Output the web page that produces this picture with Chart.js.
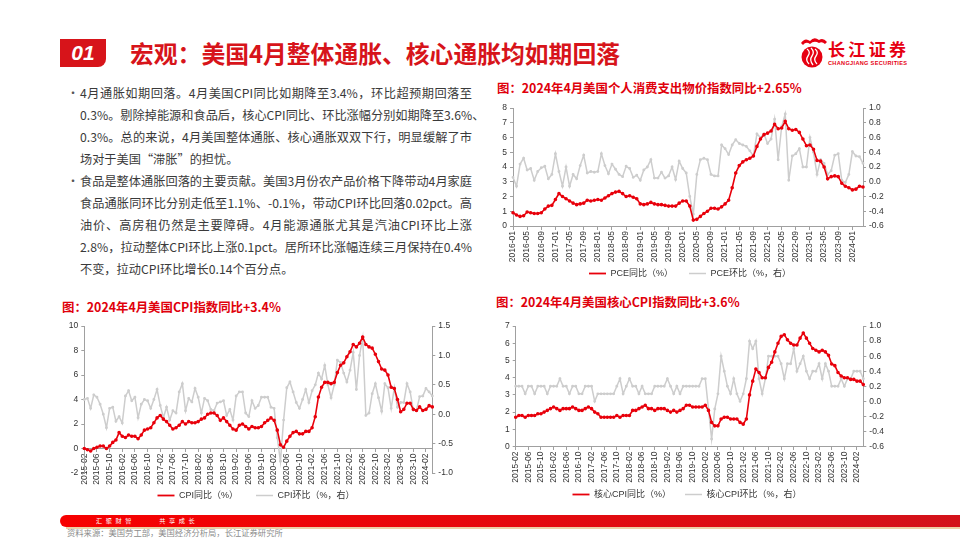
<!DOCTYPE html>
<html>
<head>
<meta charset="utf-8">
<script src="https://cdn.jsdelivr.net/npm/chart.js@4.4.1/dist/chart.umd.min.js"></script>
<style>
  body { margin: 0; width: 960px; height: 540px; overflow: hidden; background: #fff; position: relative;
         font-family: "Noto Sans CJK SC", sans-serif; }
  .abs { position: absolute; }
  .num { left: 60px; top: 39px; width: 46px; height: 28px; background: #D7141A; border-radius: 0 0 8px 0;
         color: #fff; font: italic bold 21px "Liberation Sans", Arial, sans-serif; line-height: 28px; text-align: center; }
  .title { left: 130px; top: 35px; font-size: 23.8px; font-weight: bold; color: #D7141A; white-space: nowrap; }
  .txt { left: 80px; width: 392px; font-size: 12.2px; color: #3a3a3a; line-height: 22px; height: 22px;
         text-align: justify; text-align-last: justify; white-space: nowrap; }
  .txt.last { text-align-last: left; }
  .dot { left: 67px; font-size: 12px; color: #555; line-height: 22px; }
  .ctitle { font-size: 12.4px; font-weight: bold; color: #E0000B; white-space: nowrap; }
  canvas { position: absolute; }
</style>
</head>
<body>

<div class="abs num">01</div>
<div class="abs title">宏观：美国4月整体通胀、核心通胀均如期回落</div>

<svg class="abs" style="left:798px;top:34px" width="116" height="36" viewBox="0 0 116 36">
  <path d="M3 9 Q7 3 12 7 Q16 2 21 6 Q25 3 29 8 L27 10 Q24 7 21 9 Q16 6 12 10 Q8 7 5 11 Z" fill="#E60012"/>
  <circle cx="14" cy="23" r="10.5" fill="#E60012"/>
  <path d="M9 15 Q13 18 10 22 Q7 26 11 30" stroke="#fff" stroke-width="1.3" fill="none"/>
  <path d="M13 14 Q17 18 14 22 Q11 26 15 31" stroke="#fff" stroke-width="1.3" fill="none"/>
  <path d="M17 15 Q21 18 18 22 Q15 26 19 30" stroke="#fff" stroke-width="1.3" fill="none"/>
  <text x="30" y="22" font-size="17" font-weight="bold" fill="#E60012" textLength="78"
        font-family="Noto Sans CJK SC">长江证券</text>
  <text x="30" y="30.5" font-size="5.6" font-weight="bold" fill="#E60012" textLength="79"
        font-family="Liberation Sans, Arial">CHANGJIANG SECURITIES</text>
</svg>

<div class="abs dot" style="top:82px">•</div>
<div class="abs txt" style="top:82px">4月通胀如期回落。4月美国CPI同比如期降至3.4%，环比超预期回落至</div>
<div class="abs txt" style="top:104px">0.3%。剔除掉能源和食品后，核心CPI同比、环比涨幅分别如期降至3.6%、</div>
<div class="abs txt" style="top:126px">0.3%。总的来说，4月美国整体通胀、核心通胀双双下行，明显缓解了市</div>
<div class="abs txt last" style="top:148px">场对于美国“滞胀”的担忧。</div>
<div class="abs dot" style="top:170px">•</div>
<div class="abs txt" style="top:170px">食品是整体通胀回落的主要贡献。美国3月份农产品价格下降带动4月家庭</div>
<div class="abs txt" style="top:192px">食品通胀同环比分别走低至1.1%、-0.1%，带动CPI环比回落0.02pct。高</div>
<div class="abs txt" style="top:214px">油价、高房租仍然是主要障碍。4月能源通胀尤其是汽油CPI环比上涨</div>
<div class="abs txt" style="top:236px">2.8%，拉动整体CPI环比上涨0.1pct。居所环比涨幅连续三月保持在0.4%</div>
<div class="abs txt last" style="top:258px">不变，拉动CPI环比增长0.14个百分点。</div>

<div class="abs ctitle" style="left:497px;top:79px">图：2024年4月美国个人消费支出物价指数同比+2.65%</div>
<div class="abs ctitle" style="left:62px;top:298px">图：2024年4月美国CPI指数同比+3.4%</div>
<div class="abs ctitle" style="left:496px;top:293px">图：2024年4月美国核心CPI指数同比+3.6%</div>

<canvas id="pce" width="420" height="188" style="left:480px;top:100px"></canvas>
<canvas id="cpi" width="404" height="192" style="left:54px;top:318px"></canvas>
<canvas id="core" width="410" height="191" style="left:482px;top:318px"></canvas>

<div class="abs" style="left:60px;top:515px;width:900px;height:12px;border-radius:6px 0 0 6px;
     background:linear-gradient(90deg,#F70000,#D3121A)"></div>
<div class="abs" style="left:66px;top:527px;width:894px;height:2px;background:#EDCFA5"></div>
<div class="abs" style="left:96px;top:515px;font-size:6.2px;line-height:12px;color:#fff;letter-spacing:3.6px;white-space:nowrap">汇聚财智<span style="margin-left:24px">共享成长</span></div>
<div class="abs" style="left:67px;top:527px;font-size:8.3px;line-height:11px;color:#8c8c8c;white-space:nowrap">资料来源：美国劳工部，美国经济分析局，长江证券研究所</div>

<script>
// month categories
function monthLabels(year, month, n) {
  const out = [];
  for (let k = 0; k < n; k++) {
    const m = (month - 1 + k) % 12 + 1;
    const y = year + Math.floor((month - 1 + k) / 12);
    out.push(y + '-' + String(m).padStart(2, '0'));
  }
  return out;
}

const pceMonths = monthLabels(2016, 1, 100);   // 2016-01 .. 2024-04
const cpiMonths = monthLabels(2015, 2, 111);   // 2015-02 .. 2024-04

// PCE 同比 (%), left axis
const pceYoy = [
  0.9, 0.75, 0.65, 0.7, 0.95, 0.9, 0.85, 0.85, 0.9, 1.15, 1.35, 1.4,
  1.8, 2.2, 2.0, 1.85, 1.7, 1.55, 1.45, 1.5, 1.55, 1.75, 1.7, 1.75,
  1.8, 1.75, 1.9, 2.05, 2.2, 2.3, 2.35, 2.2, 2.0, 2.05, 1.95, 1.85,
  1.5, 1.45, 1.5, 1.6, 1.5, 1.45, 1.45, 1.4, 1.35, 1.35, 1.35, 1.55,
  1.7, 1.7, 1.35, 0.4, 0.45, 0.65, 0.85, 1.0, 1.2, 1.2, 1.15, 1.3,
  1.5, 1.75, 2.6, 3.6, 4.1, 4.35, 4.5, 4.6, 4.75, 5.4, 5.9, 6.2,
  6.3, 6.45, 6.9, 6.6, 6.65, 7.1, 6.6, 6.5, 6.55, 6.35, 5.9, 5.45,
  5.5, 5.2, 4.45, 4.4, 4.0, 3.2, 3.35, 3.4, 3.35, 2.9, 2.7, 2.6,
  2.45, 2.5, 2.7, 2.65
];
// PCE 环比 (%), right axis
const pceMom = [
  0.06, -0.06, 0.24, 0.32, 0.16, 0.18, 0.02, 0.14, 0.19, 0.21, 0.04, 0.10,
  0.38, 0.14, -0.06, 0.20, -0.06, 0.10, 0.04, 0.22, 0.36, 0.12, 0.14, 0.13,
  0.14, 0.38, 0.22, 0.11, 0.24, 0.17, 0.10, 0.07, 0.21, 0.18, 0.06, 0.09,
  0.02, 0.16, 0.20, 0.30, 0.05, 0.05, 0.13, 0.05, 0.08, 0.20, 0.03, 0.28,
  0.18, 0.12, -0.20, -0.44, 0.10, 0.30, 0.32, 0.30, 0.10, 0.08, 0.08, 0.50,
  0.45, 0.37, 0.50, 0.57, 0.52, 0.50, 0.48, 0.42, 0.35, 0.65, 0.60, 0.65,
  0.52, 0.58, 0.85, 0.30, 0.75, 0.92, 0.02, 0.35, 0.38, 0.45, 0.20, 0.20,
  0.60, 0.40, 0.10, 0.30, 0.25, 0.10, 0.15, 0.36, 0.38, 0.02, -0.01, 0.10,
  0.41, 0.35, 0.34, 0.25
];

// CPI 同比 (%), left axis
const cpiYoy = [
  0.0, -0.1, -0.2, 0.0, 0.1, 0.2, 0.2, 0.0, 0.2, 0.5, 0.7,
  1.3, 1.0, 0.9, 1.1, 1.0, 1.0, 0.8, 1.1, 1.5, 1.6, 1.7, 2.1,
  2.5, 2.7, 2.4, 2.2, 1.9, 1.6, 1.7, 1.9, 2.2, 2.0, 2.2, 2.1,
  2.1, 2.2, 2.4, 2.5, 2.8, 2.9, 2.9, 2.7, 2.3, 2.5, 2.2, 1.9,
  1.6, 1.5, 1.9, 2.0, 1.8, 1.6, 1.8, 1.7, 1.7, 1.8, 2.1, 2.3,
  2.5, 2.3, 1.5, 0.3, 0.1, 0.6, 1.0, 1.3, 1.4, 1.2, 1.2, 1.4,
  1.4, 1.7, 2.6, 4.2, 5.0, 5.4, 5.4, 5.3, 5.4, 6.2, 6.8, 7.0,
  7.5, 7.9, 8.5, 8.3, 8.6, 9.1, 8.5, 8.3, 8.2, 7.7, 7.1, 6.5,
  6.4, 6.0, 5.0, 4.9, 4.0, 3.0, 3.2, 3.7, 3.7, 3.2, 3.1, 3.4,
  3.1, 3.2, 3.5, 3.4
];
// CPI 环比 (%), right axis
const cpiMom = [
  0.25, 0.27, 0.10, 0.33, 0.29, 0.17, 0.00, -0.23, 0.10, 0.12, -0.12,
  -0.04, -0.15, 0.31, 0.40, 0.23, 0.29, -0.06, 0.17, 0.25, 0.23, 0.10, 0.25,
  0.42, 0.15, -0.06, 0.12, -0.10, 0.06, 0.02, 0.38, 0.52, 0.06, 0.27, 0.21,
  0.44, 0.29, 0.02, 0.27, 0.23, 0.08, 0.06, 0.19, 0.21, 0.23, -0.02, 0.08,
  -0.10, 0.31, 0.38, 0.38, 0.02, -0.04, 0.23, 0.10, 0.15, 0.29, 0.29, 0.29,
  0.12, 0.10, -0.40, -0.80, -0.10, 0.45, 0.55, 0.38, 0.20, 0.10, 0.25, 0.42,
  0.20, 0.40, 0.50, 0.70, 0.60, 0.83, 0.50, 0.28, 0.50, 0.92, 0.88, 0.70,
  0.55, 0.75, 1.05, 0.42, 1.00, 1.30, -0.02, 0.02, 0.35, 0.52, 0.28, 0.05,
  0.52, 0.45, 0.10, 0.45, 0.12, 0.20, 0.20, 0.52, 0.38, 0.07, 0.07, 0.30,
  0.31, 0.44, 0.38, 0.31
];

// 核心CPI 同比 (%), left axis
const coreYoy = [
  1.7, 1.8, 1.8, 1.7, 1.8, 1.8, 1.8, 1.9, 1.9, 2.0, 2.1,
  2.2, 2.3, 2.2, 2.1, 2.2, 2.2, 2.2, 2.3, 2.2, 2.1, 2.1, 2.2,
  2.3, 2.2, 2.0, 1.9, 1.7, 1.7, 1.7, 1.7, 1.7, 1.8, 1.7, 1.8,
  1.8, 1.8, 2.1, 2.1, 2.2, 2.3, 2.4, 2.2, 2.2, 2.1, 2.2, 2.2,
  2.2, 2.1, 2.0, 2.1, 2.0, 2.1, 2.2, 2.4, 2.4, 2.3, 2.3, 2.3,
  2.3, 2.4, 2.1, 1.4, 1.2, 1.2, 1.6, 1.7, 1.7, 1.6, 1.6, 1.6,
  1.4, 1.3, 1.6, 3.0, 3.8, 4.5, 4.3, 4.0, 4.0, 4.6, 4.9, 5.5,
  6.0, 6.4, 6.5, 6.2, 6.0, 5.9, 5.9, 6.3, 6.6, 6.3, 6.0, 5.7,
  5.6, 5.5, 5.6, 5.5, 5.3, 4.8, 4.7, 4.3, 4.1, 4.0, 4.0, 3.9,
  3.9, 3.8, 3.8, 3.6
];
// 核心CPI 环比 (%), right axis
const coreMom = [
  0.2, 0.2, 0.2, 0.1, 0.2, 0.2, 0.1, 0.2, 0.2, 0.2, 0.1,
  0.2, 0.2, 0.2, 0.3, 0.2, 0.2, 0.1, 0.2, 0.2, 0.1, 0.1, 0.2,
  0.2, 0.2, 0.0, 0.1, 0.1, 0.1, 0.1, 0.1, 0.1, 0.2, 0.3, 0.1,
  0.2, 0.3, 0.2, 0.2, 0.1, 0.2, 0.1, 0.1, 0.1, 0.2, 0.2, 0.2,
  0.2, 0.3, 0.2, 0.1, 0.2, 0.1, 0.2, 0.2, 0.2, 0.2, 0.2, 0.2,
  0.3, 0.3, -0.1, -0.5, -0.1, 0.1, 0.6, 0.4, 0.2, 0.1, 0.3, 0.1,
  0.0, 0.1, 0.3, 0.8, 0.7, 0.8, 0.3, 0.1, 0.3, 0.6, 0.6, 0.6,
  0.6, 0.5, 0.3, 0.5, 0.5, 0.7, 0.4, 0.5, 0.6, 0.4, 0.3, 0.4,
  0.4, 0.5, 0.3, 0.5, 0.4, 0.2, 0.2, 0.2, 0.3, 0.2, 0.3, 0.3,
  0.4, 0.4, 0.4, 0.3
];

const RED = '#E8000B';
const GRAY = '#CDCDCD';
const AXIS = '#A0A0A0';
const TXT = '#333333';
const tickFont = { family: '"Liberation Sans", Arial, sans-serif', size: 8.5 };
const legendFont = { family: '"Liberation Sans", "Noto Sans CJK SC", sans-serif', size: 9 };

function series(label, data, color, axisId, order, width, radius, markWidth) {
  return {
    label: label, data: data, yAxisID: axisId, order: order,
    borderColor: color, backgroundColor: color, borderWidth: width,
    pointRadius: radius, pointBorderWidth: markWidth, pointHoverRadius: 0, tension: 0
  };
}

// category axis drawn on the y = bottom value line (no clipping of the rotated labels)
function xScale(atValue) {
  return {
    axis: 'x', type: 'category', position: { y: atValue }, offset: false,
    grid: {
      drawOnChartArea: false, drawTicks: true, tickLength: 3,
      color: (c) => (c.index % 4 === 0 ? AXIS : 'rgba(0,0,0,0)')
    },
    border: { color: AXIS },
    ticks: {
      autoSkip: false, minRotation: 90, maxRotation: 90, padding: 2,
      color: TXT, font: tickFont,
      callback: function (v, i) { return i % 4 === 0 ? this.getLabelForValue(v) : ''; }
    }
  };
}

// empty axis that only keeps room for the rotated labels above the legend
function spacer(height) {
  return {
    axis: 'x', type: 'category', position: 'bottom',
    grid: { display: false }, border: { display: false }, ticks: { display: false },
    afterFit: (s) => { s.height = height; }
  };
}

function yScale(position, min, max, step, decimals, width) {
  return {
    position: position, min: min, max: max,
    grid: { drawOnChartArea: false, drawTicks: true, tickLength: 3, color: AXIS },
    border: { color: AXIS },
    ticks: { stepSize: step, padding: 3, color: TXT, font: tickFont,
             callback: (v) => v.toFixed(decimals) },
    afterFit: (s) => { s.width = width; }
  };
}

function makeChart(id, labels, datasets, scales, legendPad) {
  return new Chart(document.getElementById(id), {
    type: 'line',
    data: { labels: labels, datasets: datasets },
    options: {
      responsive: false,
      animation: false,
      layout: { padding: { top: 8, left: 0, right: 0, bottom: 0 } },
      plugins: {
        legend: {
          position: 'bottom',
          labels: { usePointStyle: true, pointStyle: 'line', pointStyleWidth: 17,
                    padding: legendPad, color: TXT, font: legendFont }
        },
        tooltip: { enabled: false }
      },
      scales: scales
    }
  });
}

makeChart('pce', pceMonths, [
  series('PCE同比（%）', pceYoy, RED, 'y', 0, 1.6, 0.9, 1.8),
  series('PCE环比（%，右）', pceMom, GRAY, 'y1', 1, 1.5, 0.7, 1.5)
], {
  x: xScale(0),
  xs: spacer(27),
  y: yScale('left', 0, 8, 1, 0, 33),
  y1: yScale('right', -0.6, 1.0, 0.2, 1, 37)
}, 16);

makeChart('cpi', cpiMonths, [
  series('CPI同比（%）', cpiYoy, RED, 'y', 0, 1.6, 0.9, 1.8),
  series('CPI环比（%，右）', cpiMom, GRAY, 'y1', 1, 1.5, 0.7, 1.5)
], {
  x: xScale(0),
  y: yScale('left', -2, 10, 2, 0, 30.3),
  y1: yScale('right', -1.0, 1.5, 0.5, 1, 25.7)
}, 18);

makeChart('core', cpiMonths, [
  series('核心CPI同比（%）', coreYoy, RED, 'y', 0, 1.6, 0.9, 1.8),
  series('核心CPI环比（%，右）', coreMom, GRAY, 'y1', 1, 1.5, 0.7, 1.5)
], {
  x: xScale(0),
  xs: spacer(29.5),
  y: yScale('left', 0, 7, 1, 0, 33.7),
  y1: yScale('right', -0.6, 1.0, 0.2, 1, 28.7)
}, 14);
</script>
</body>
</html>
